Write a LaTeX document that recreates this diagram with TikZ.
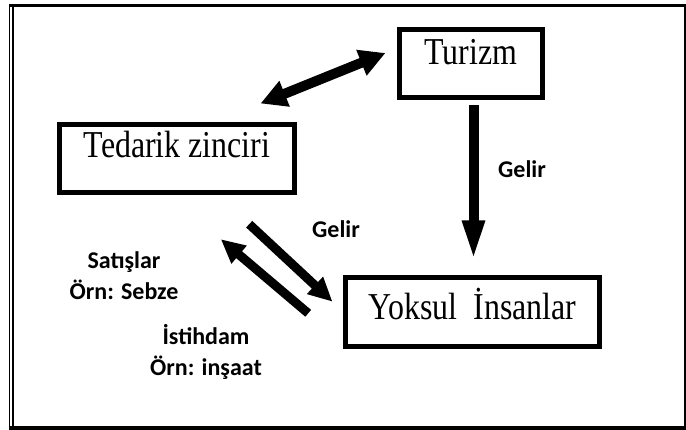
\documentclass[tikz,border=0pt]{standalone}
\usepackage{fontspec}
\usepackage{tikz}
\usetikzlibrary{arrows.meta}
\usetikzlibrary{positioning}
\setmainfont{Liberation Serif}
\newfontfamily\boxfont[FakeStretch=0.84]{Liberation Serif}
\newfontfamily\labelfont{Carlito}

\begin{document}
\begin{tikzpicture}[x=1pt, y=-1pt,
        box/.style={draw, line width=5pt, inner sep=0pt, text height=25pt, font=\boxfont\fontsize{38}{42}\selectfont},
        lbl/.style={align=center, inner sep=0pt, font=\labelfont\bfseries\fontsize{24}{31}\selectfont},
        arr/.style={line width=10pt, -{Triangle[width=22pt, length=24pt]}}]
            \useasboundingbox (0,0) rectangle (686,430);

            \node[box, minimum width=143pt, minimum height=68pt, text depth=22pt] (tur) at (471,63.5) {Turizm};
            \node[box, minimum width=235pt, minimum height=68pt, text depth=26pt] (ted) at (177,158.5) {Tedarik zinciri};
            \node[box, minimum width=254pt, minimum height=69pt, text depth=9pt] (yok) at (472.5,312) {Yoksul\ \ İnsanlar};

            \node[lbl, anchor=base] (gel1) at (522,178) {Gelir};
            \node[lbl, anchor=base] (gel2) at (336,238) {Gelir};
            \node[lbl] (sat) at (124,276) {Satışlar\\Örn: Sebze};
            \node[lbl] (ist) at (206,352) {İstihdam\\Örn: inşaat};

            \draw[arr, -{Triangle[width=20pt, length=41pt]}] ([shift={(2.5,5.5)}]tur.south) -- ([shift={(1,-13.5)}]yok.north);
            \draw[arr, {Triangle[width=26pt, length=26pt]}-{Triangle[width=26pt, length=26pt]}] ([shift={(-36.5,-18.5)}]ted.north east) -- ([shift={(-11.5,-10.5)}]tur.west);
            \draw[arr, line width=9pt] ([shift={(-47.8,29.2)}]ted.south east) -- ([shift={(-10.5,-10.3)}]yok.west);
            \draw[arr, line width=9pt] ([shift={(-34.8,1.3)}]yok.west) -- ([shift={(-76.2,44.2)}]ted.south east);

            \draw[line width=3pt] (9,5.5) -- (686,5.5);
            \draw[line width=1.5pt] (9.5,4) -- (9.5,430);
            \draw[line width=2pt] (13,7) -- (13,430);
            \draw[line width=4pt] (9,428) -- (686,428);
            \draw[line width=2pt] (685,4) -- (685,430);
        \end{tikzpicture}
\end{document}
